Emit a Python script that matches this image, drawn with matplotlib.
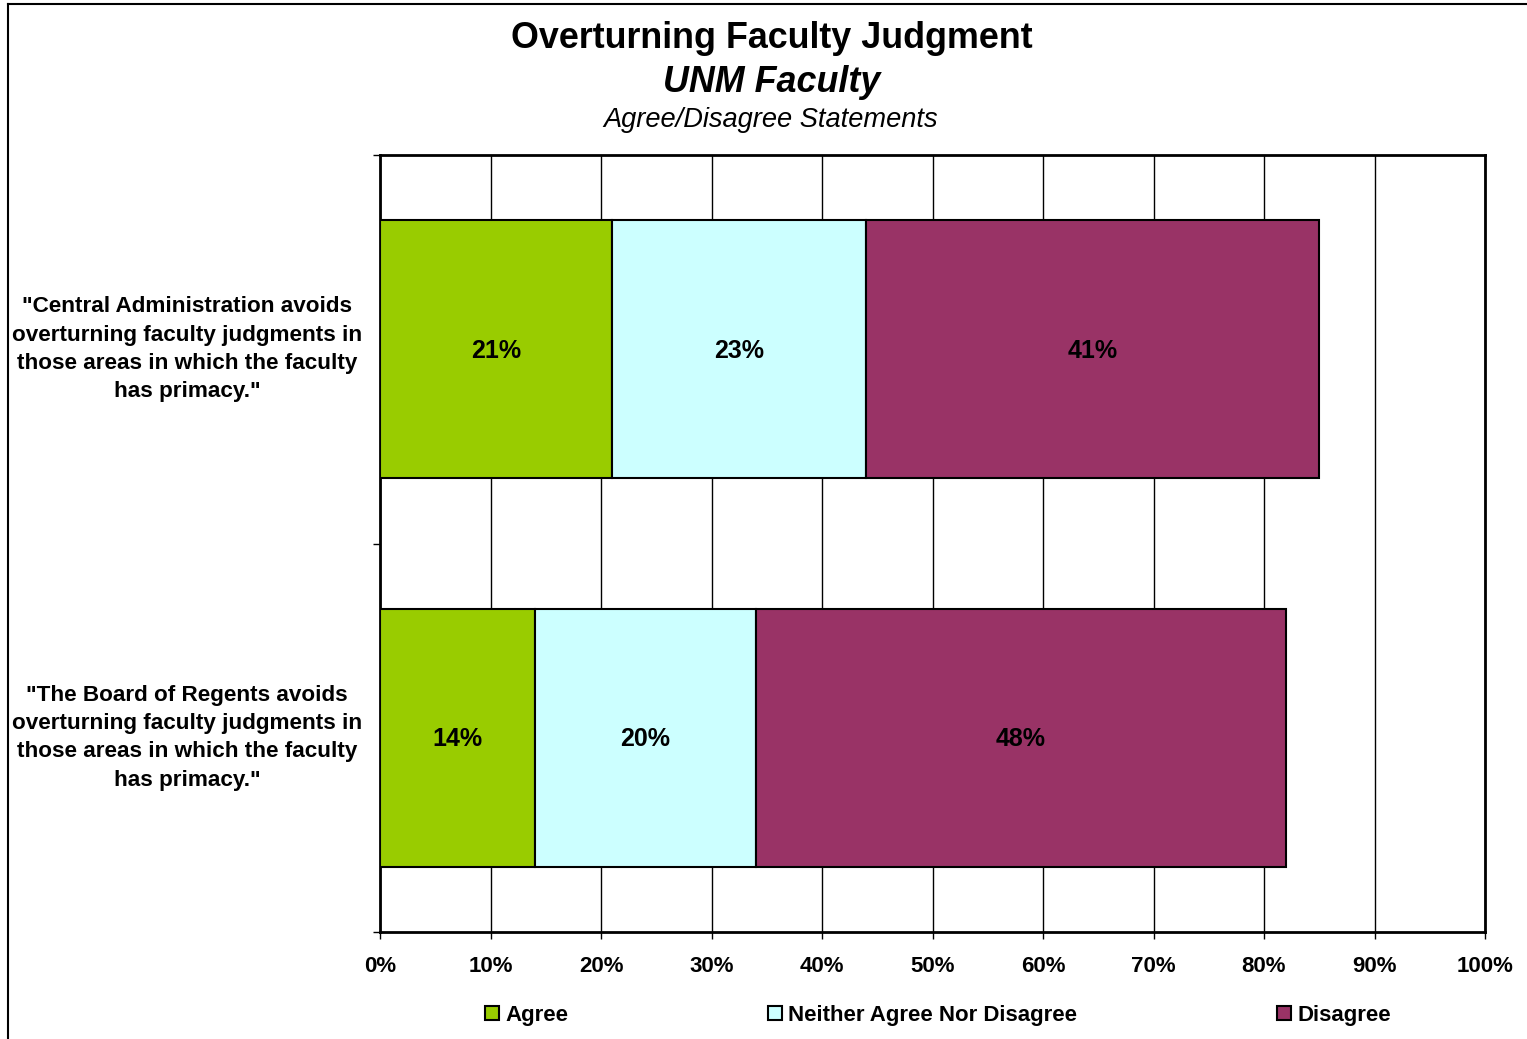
import matplotlib
matplotlib.use("Agg")
import matplotlib.pyplot as plt
from matplotlib.patches import Patch
from matplotlib.lines import Line2D
import matplotlib.transforms as mtransforms

plt.rcParams['font.family'] = ['Liberation Sans', 'DejaVu Sans']

categories = [
    '"The Board of Regents avoids\noverturning faculty judgments in\nthose areas in which the faculty\nhas primacy."',
    '"Central Administration avoids\noverturning faculty judgments in\nthose areas in which the faculty\nhas primacy."',
]
series_names = ["Agree", "Neither Agree Nor Disagree", "Disagree"]
agree = [14, 21]
neither = [20, 23]
disagree = [48, 41]
colors = ["#99CC00", "#CCFFFF", "#993366"]
xticks = list(range(0, 101, 10))
xticklabels = [f"{v}%" for v in xticks]

W, H = 1527, 1039
fig = plt.figure(figsize=(W / 100, H / 100), dpi=100)
ax = fig.add_axes([380 / W, 1 - 932 / H, (1485 - 380) / W, (932 - 155) / H])

ypos = [0.5, 1.5]
left = [0, 0]
for vals, col, name in zip([agree, neither, disagree], colors, series_names):
    ax.barh(ypos, vals, left=left, height=0.665, color=col,
            edgecolor="black", linewidth=1.5, label=name, zorder=3)
    for y, l, v in zip(ypos, left, vals):
        ax.text(l + v / 2, y - 0.004, f"{v}%", ha="center", va="center",
                fontsize=18, fontweight="bold", zorder=4)
    left = [a + b for a, b in zip(left, vals)]

ax.set_xlim(0, 100)
ax.set_ylim(0, 2)
ax.set_xticks(xticks)
ax.set_xticklabels(xticklabels, fontsize=16, fontweight="bold")
ax.set_yticks([0, 1, 2])
ax.set_yticklabels([])
ax.tick_params(axis="x", direction="out", length=5, width=1, pad=12.5)
ax.tick_params(axis="y", direction="out", length=5, width=1)
ax.grid(axis="x", color="black", linewidth=1, zorder=1)
ax.set_axisbelow(True)
for s in ax.spines.values():
    s.set_linewidth(2)

trans = mtransforms.blended_transform_factory(ax.transAxes, ax.transData)
for y, lab in zip(ypos, categories):
    ax.text(-0.1747, y, lab, transform=trans, ha="center", va="center",
            fontsize=16.2, fontweight="bold", linespacing=1.46)

fig.text(772 / W, 1 - 38 / H, "Overturning Faculty Judgment", ha="center", va="center",
         fontsize=25.8, fontweight="bold")
fig.text(772 / W, 1 - 82 / H, "UNM Faculty", ha="center", va="center",
         fontsize=25.8, fontweight="bold", style="italic")
fig.text(771 / W, 1 - 120 / H, "Agree/Disagree Statements", ha="center", va="center",
         fontsize=19.6, style="italic")

handles = [Patch(facecolor=c, edgecolor="black", linewidth=1.5) for c in colors]
fig.legend(handles, series_names, loc="center", bbox_to_anchor=(938 / W, 1 - 1015 / H),
           ncol=3, frameon=False, prop={"size": 16, "weight": "bold"},
           handlelength=0.6, handleheight=0.6, handletextpad=0.3, columnspacing=9.0)

# outer frame (top and left edges visible)
fig.add_artist(Line2D([8 / W, 8 / W], [0, 1 - 4 / H], transform=fig.transFigure, color="black", linewidth=1.5))
fig.add_artist(Line2D([8 / W, 1], [1 - 4 / H, 1 - 4 / H], transform=fig.transFigure, color="black", linewidth=1.5))

fig.savefig("out.png", dpi=100)
